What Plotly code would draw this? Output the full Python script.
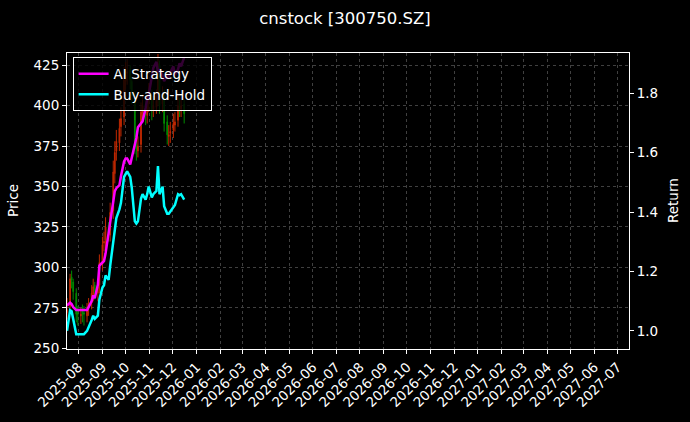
import pandas as pd
import plotly.graph_objects as go

# trading days sampled every 2 business days
dates = pd.bdate_range("2025-07-17", "2025-12-16", freq="2B")

close = [274, 293, 292, 285, 271, 271, 271, 271, 271, 274, 277, 284, 288, 285,
         288, 303, 314, 316, 325, 321, 334, 359, 371, 378, 386, 392, 416, 419,
         421, 416, 406, 375, 373, 375, 396, 400, 395, 400, 407, 397, 400, 403,
         426, 400, 407, 389, 382, 382, 384, 389, 390, 400, 399, 400, 395]
open_ = [272, 276, 294, 291, 284, 272, 270, 273, 272, 270, 275, 278, 283, 289,
         284, 289, 302, 315, 317, 326, 320, 335, 358, 372, 377, 387, 393, 415,
         420, 422, 415, 405, 376, 372, 376, 395, 401, 394, 401, 406, 398, 399,
         404, 425, 401, 406, 390, 381, 383, 385, 388, 391, 399, 398, 401]
high = [281, 296, 298, 293, 287, 276, 275, 277, 276, 278, 281, 289, 293, 291,
        292, 308, 319, 322, 331, 328, 340, 366, 378, 385, 392, 399, 424, 427,
        429, 425, 418, 409, 381, 381, 402, 407, 403, 406, 414, 410, 406, 410,
        432, 428, 412, 410, 394, 388, 390, 395, 396, 406, 405, 407, 404]
low = [268, 271, 287, 280, 266, 264, 265, 266, 264, 266, 270, 274, 279, 280,
       279, 284, 298, 310, 312, 316, 316, 330, 352, 366, 372, 381, 388, 410,
       413, 410, 401, 370, 366, 368, 371, 390, 388, 389, 396, 391, 393, 395,
       400, 395, 396, 384, 376, 375, 377, 380, 384, 387, 393, 393, 389]
ai_strategy = [1.085, 1.095, 1.09, 1.08, 1.07, 1.07, 1.07, 1.07, 1.07, 1.07,
               1.08, 1.10, 1.12, 1.11, 1.155, 1.22, 1.23, 1.235, 1.26, 1.33,
               1.355, 1.43, 1.47, 1.48, 1.49, 1.52, 1.57, 1.58, 1.58, 1.56,
               1.58, 1.63, 1.65, 1.685, 1.70, 1.705, 1.75, 1.78, 1.795, 1.86,
               1.885, 1.905, 1.87, 1.88, 1.86, 1.84, 1.86, 1.85, 1.87, 1.89,
               1.86, 1.88, 1.90, 1.89, 1.92]
buy_hold = [c / close[0] for c in close]

FS = 13.5

fig = go.Figure()
fig.add_trace(go.Candlestick(
    x=dates, open=open_, high=high, low=low, close=close,
    increasing=dict(line=dict(color="#c02800", width=1), fillcolor="#c02800"),
    decreasing=dict(line=dict(color="#008a00", width=1), fillcolor="#008a00"),
    whiskerwidth=0, showlegend=False, yaxis="y",
))
fig.add_trace(go.Scatter(
    x=dates, y=ai_strategy, mode="lines", name="AI Strategy",
    line=dict(color="#ff00ff", width=2.5), yaxis="y2",
))
fig.add_trace(go.Scatter(
    x=dates, y=buy_hold, mode="lines", name="Buy-and-Hold",
    line=dict(color="#00ffff", width=2.5), yaxis="y2",
))

axis_style = dict(showline=True, linecolor="white", linewidth=1, ticks="outside",
                  tickcolor="white", ticklen=4, zeroline=False,
                  tickfont=dict(color="white", size=FS))
grid = dict(showgrid=True, gridcolor="#404040", griddash="3px,3px", gridwidth=0.7)

fig.update_layout(
    width=690, height=422,
    paper_bgcolor="black", plot_bgcolor="black",
    font=dict(family="DejaVu Sans", color="white", size=FS),
    title=dict(text="cnstock [300750.SZ]", x=0.5, xanchor="center", y=0.97,
               font=dict(size=16.5, color="white")),
    margin=dict(l=67, r=61, t=53, b=70),
    xaxis=dict(**axis_style, **grid, type="date", range=["2025-07-17", "2027-07-16"],
               dtick="M1", tick0="2025-08-01", tickformat="%Y-%m", tickangle=-45,
               mirror=True, rangeslider=dict(visible=False)),
    yaxis=dict(**axis_style, **grid, range=[249.5, 432.6], dtick=25, mirror=True),
    yaxis2=dict(**axis_style, overlaying="y", side="right", range=[0.939, 1.935],
                dtick=0.2, tickformat=".1f", showgrid=False),
    legend=dict(x=0.01, y=0.985, xanchor="left", yanchor="top",
                bgcolor="rgba(0,0,0,0.8)", bordercolor="white", borderwidth=1,
                font=dict(color="white", size=FS)),
    annotations=[
        dict(text="Price", xref="paper", yref="paper", x=0, y=0.5,
             xanchor="right", yanchor="middle", xshift=-44, textangle=-90,
             showarrow=False, font=dict(size=FS, color="white")),
        dict(text="Return", xref="paper", yref="paper", x=1, y=0.5,
             xanchor="left", yanchor="middle", xshift=34, textangle=-90,
             showarrow=False, font=dict(size=FS, color="white")),
    ],
)

# drop the default page margin so the figure sits at the window's corner
fig.write_html("out.html", config={"displayModeBar": False},
               post_script="document.body.style.margin='0';"
                           "document.body.style.background='black';")
